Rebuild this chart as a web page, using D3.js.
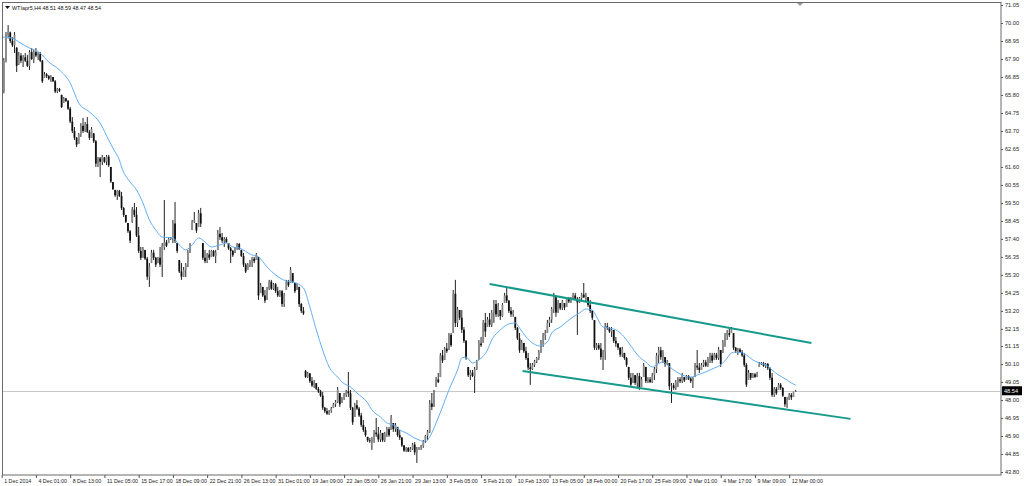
<!DOCTYPE html>
<html>
<head>
<meta charset="utf-8">
<script src="https://cdn.jsdelivr.net/npm/d3@7"></script>
<style>
  body { margin: 0; background: #fff; }
  svg { display: block; font-family: "Liberation Sans", Arial, sans-serif; }
</style>
</head>
<body>
<div class="graph"></div>
<script>
var width = 1024,
    height = 486;

// header of the chart window
var symbol = "WTIapr5,H4",
    lastQuote = "48.51 48.59 48.47 48.54",
    lastClose = 48.54;

// time axis labels, one every 16 bars
var timeLabels = ["1 Dec 2014", "4 Dec 01:00", "8 Dec 13:00", "11 Dec 05:00", "15 Dec 17:00",
  "18 Dec 09:00", "22 Dec 21:00", "26 Dec 13:00", "31 Dec 01:00", "19 Jan 09:00", "22 Jan 05:00",
  "26 Jan 21:00", "29 Jan 13:00", "3 Feb 05:00", "5 Feb 21:00", "10 Feb 13:00", "13 Feb 05:00",
  "18 Feb 00:00", "20 Feb 17:00", "25 Feb 09:00", "2 Mar 01:00", "4 Mar 17:00", "9 Mar 09:00",
  "12 Mar 00:00"];

// price axis labels
var priceLabels = ["71.05", "70.00", "68.95", "67.90", "66.85", "65.80", "64.75", "63.70", "62.65",
  "61.60", "60.55", "59.50", "58.45", "57.40", "56.35", "55.30", "54.25", "53.20", "52.15", "51.15",
  "50.10", "49.05", "48.00", "46.95", "45.90", "44.85", "43.80"];

// H4 bars: [open, high, low, close]
var ohlc = [
  // 0
  [64.5,66.1,64.45,66.0],[66.0,67.96,65.9,67.8],[67.8,69.47,67.7,69.3],[69.3,69.88,69.1,69.5],
  [69.45,69.5,68.83,68.95],[68.95,69.18,68.6,68.7],[68.7,69.47,68.25,69.3],[68.55,68.6,67.14,67.5],
  [67.6,68.31,67.55,68.1],[68.1,68.25,67.66,67.8],[67.8,68.13,67.43,68.0],[68.0,68.25,67.72,67.8],
  [67.8,68.13,67.43,67.5],[67.5,68.42,67.26,68.3],[68.3,68.54,67.84,67.9],[67.9,68.42,67.66,68.3],
  [68.3,68.54,68.01,68.1],[68.1,68.31,67.84,68.2],[68.2,68.31,67.72,67.8],[67.8,67.84,66.5,66.6],
  // 20
  [66.8,67.14,66.79,67.0],[67.0,67.08,66.79,66.9],[66.9,66.96,66.67,66.75],[66.75,66.96,66.56,66.85],
  [66.85,66.85,66.56,66.6],[66.6,66.67,65.91,66.0],[66.0,66.21,65.91,66.15],[66.15,66.21,65.97,66.05],
  [65.8,65.82,65.04,65.1],[65.35,65.68,65.33,65.6],[65.6,65.62,65.39,65.45],[65.45,65.51,64.92,65.0],
  [65.0,65.1,64.16,64.25],[64.25,64.51,63.58,63.7],[63.7,63.93,63.17,63.3],[63.3,63.35,62.76,62.9],
  [62.95,63.58,62.95,63.5],[63.5,64.16,63.35,64.0],[64.0,64.46,63.58,63.7],[63.7,64.22,63.64,64.1],
  // 40
  [64.1,64.51,63.58,63.65],[63.65,63.76,63.17,63.3],[63.3,63.93,63.3,63.8],[63.55,63.58,63.0,63.1],
  [63.1,63.17,61.6,61.8],[61.8,62.18,61.6,62.1],[62.1,62.18,61.01,61.9],[61.9,62.3,61.71,62.2],
  [62.15,62.18,61.83,61.9],[61.9,62.3,61.71,62.2],[62.2,62.3,61.6,61.7],[61.6,61.6,60.66,60.75],
  [60.72,60.72,60.26,60.3],[60.26,60.26,59.85,59.95],[59.95,60.26,59.67,60.2],[60.2,60.26,59.85,59.9],
  [59.9,60.14,59.09,59.2],[59.2,59.26,58.68,58.8],[58.8,58.8,58.33,58.4],[58.33,58.33,57.75,57.85],
  // 60
  [57.85,57.92,57.16,57.3],[58.4,59.26,58.33,59.1],[59.1,59.5,58.68,58.8],[58.8,59.26,57.51,57.6],
  [57.6,58.1,56.58,56.7],[56.7,56.93,56.17,56.3],[56.3,56.93,56.3,56.8],[56.75,56.76,56.17,56.25],
  [56.25,56.35,55.01,55.2],[55.2,55.99,54.6,55.8],[56.0,56.76,55.99,56.6],[56.6,56.76,56.17,56.3],
  [56.3,56.35,55.76,55.9],[55.99,56.35,55.99,56.3],[56.3,56.93,55.76,55.9],[55.9,57.16,55.18,57.0],
  [56.9,59.67,56.76,57.2],[57.2,57.34,56.93,57.0],[57.16,57.51,57.16,57.4],[57.4,57.51,57.34,57.45],
  // 80
  [57.45,58.51,57.16,58.3],[58.3,59.56,57.16,57.3],[57.16,57.16,56.58,56.7],[56.17,56.17,55.41,55.5],
  [55.5,55.99,55.01,55.2],[55.2,55.76,55.18,55.6],[55.6,55.99,55.18,55.9],[55.9,56.76,55.76,56.6],
  [56.6,57.16,56.58,57.05],[57.92,58.51,57.92,58.4],[58.4,58.97,58.33,58.5],[58.33,58.33,57.75,57.9],
  [58.1,59.09,58.1,58.9],[58.9,59.21,58.1,58.3],[57.16,57.16,56.17,56.3],[56.3,56.76,55.99,56.1],
  [56.1,56.58,55.99,56.5],[56.5,56.76,56.17,56.3],[56.35,56.76,56.35,56.7],[56.7,56.76,56.35,56.4],
  // 100
  [56.4,56.76,55.99,56.6],[56.76,57.92,56.76,57.7],[57.7,58.1,57.34,57.5],[57.5,57.75,57.16,57.3],
  [57.3,57.51,56.93,57.4],[57.4,57.51,57.16,57.2],[57.16,57.16,56.76,56.85],[56.85,56.93,55.99,56.7],
  [56.7,56.76,56.35,56.45],[56.58,56.93,56.58,56.9],[56.9,57.16,56.76,57.1],[57.1,57.16,56.76,56.8],
  [56.76,56.76,56.35,56.4],[56.4,56.58,55.76,55.9],[55.9,55.99,55.41,55.5],[55.59,55.99,55.59,55.9],
  [55.9,56.17,55.76,56.05],[56.05,56.35,55.76,56.25],[56.25,56.35,55.99,56.1],[56.17,56.58,56.17,56.5],
  // 120
  [56.35,56.35,53.84,54.1],[54.25,54.83,54.25,54.7],[54.6,54.6,54.01,54.1],[54.1,54.42,53.66,53.8],
  [53.84,54.6,53.84,54.5],[54.5,55.01,54.42,54.9],[54.9,55.01,54.42,54.5],[54.5,54.83,54.42,54.75],
  [54.75,54.83,54.25,54.35],[54.35,54.6,54.01,54.1],[54.1,54.42,54.01,54.35],[54.35,54.42,53.43,53.6],
  [53.6,54.25,53.43,54.15],[54.42,55.01,54.42,54.9],[54.9,55.01,54.6,54.7],[54.83,55.76,54.83,55.6],
  [55.4,55.41,54.83,54.9],[54.83,54.83,54.25,54.35],[54.42,54.83,54.42,54.75],[54.6,54.6,53.43,53.6],
  // 140
  [53.6,53.66,53.08,53.2],[53.2,53.43,52.96,53.05],[49.7,49.75,49.29,49.35],[49.35,49.64,49.29,49.55],
  [49.55,49.58,48.99,49.1],[49.1,49.34,48.76,48.85],[48.85,49.17,48.7,49.0],[48.99,48.99,48.59,48.65],
  [48.65,48.76,48.41,48.5],[48.5,48.59,48.18,48.25],[48.25,48.47,47.42,47.55],[47.55,47.6,47.25,47.35],
  [47.35,47.54,47.13,47.2],[47.2,47.42,47.13,47.35],[47.35,47.6,47.25,47.5],[47.54,47.83,47.54,47.75],
  [47.75,48.0,47.6,47.9],[47.9,48.76,47.83,48.6],[48.41,48.41,47.6,47.75],[47.83,48.18,47.83,48.1],
  // 160
  [48.1,48.41,48.0,48.3],[48.3,48.59,48.18,48.5],[48.5,49.64,48.18,48.4],[48.4,48.59,47.42,47.55],
  [47.55,47.6,46.55,46.7],[47.01,47.83,47.01,47.7],[47.7,48.0,47.42,47.5],[47.5,47.6,47.01,47.1],
  [47.1,47.25,46.43,46.55],[46.55,46.84,46.14,46.25],[46.25,46.43,45.85,45.95],[45.85,45.85,45.55,45.65],
  [45.65,45.79,45.5,45.6],[45.6,45.85,45.09,45.7],[45.7,46.25,45.5,46.1],[46.1,46.95,45.85,46.0],
  [46.0,46.43,45.55,45.7],[45.7,46.25,45.55,46.1],[46.08,46.08,45.55,45.65],[45.65,46.14,45.55,46.05],
  // 180
  [46.05,46.43,45.85,46.3],[46.3,46.43,45.85,45.95],[46.25,47.13,46.25,47.0],[46.66,46.66,46.14,46.3],
  [46.3,46.66,46.14,46.55],[46.43,46.43,45.85,45.95],[45.95,46.25,45.67,45.8],[45.8,45.85,45.26,45.35],
  [45.35,45.38,44.97,45.05],[45.05,45.26,44.97,45.2],[45.2,45.26,44.97,45.0],[45.0,45.26,44.97,45.15],
  [45.15,45.5,45.09,45.4],[45.4,45.55,44.8,44.95],[44.95,45.26,44.33,45.15],[45.15,45.26,45.09,45.2],
  [45.2,45.38,45.09,45.3],[45.3,45.67,45.21,45.6],[45.6,45.96,45.5,45.9],[45.9,46.25,45.67,46.15],
  // 200
  [46.15,48.0,46.08,47.8],[47.8,48.41,47.42,47.6],[47.6,48.59,47.6,48.45],[48.76,49.34,48.76,49.2],
  [49.2,49.58,48.99,49.05],[49.34,50.75,49.34,50.6],[50.6,50.92,50.16,50.3],[50.34,51.1,50.34,51.0],
  [51.0,51.33,50.75,50.85],[50.92,51.91,50.92,51.8],[51.8,51.91,51.1,51.2],[51.91,54.42,51.91,54.2],
  [54.2,55.01,52.26,52.5],[52.5,53.43,52.26,53.3],[53.25,53.25,52.67,52.8],[52.8,53.25,51.91,52.1],
  [52.1,52.26,51.33,51.45],[51.45,51.5,50.34,50.45],[49.93,49.93,49.34,49.45],[49.45,49.75,49.17,49.6],
  // 220
  [49.6,49.75,49.34,49.4],[49.4,49.93,48.41,49.8],[49.8,50.34,49.75,50.2],[50.34,51.5,50.34,51.3],
  [51.3,51.68,51.1,51.2],[51.33,52.67,51.33,52.5],[52.5,53.08,51.68,52.0],[52.26,52.85,52.26,52.7],
  [52.7,53.08,52.26,52.4],[52.4,53.25,52.26,53.1],[53.1,53.84,52.5,53.6],[53.6,53.84,52.85,53.0],
  [53.0,53.66,52.85,53.5],[53.25,53.25,52.67,52.9],[52.9,53.66,52.85,53.55],[53.66,54.25,53.66,54.1],
  [54.1,54.54,53.66,53.8],[53.8,53.84,53.08,53.2],[53.2,53.43,52.85,53.0],[53.0,53.25,52.85,53.15],
  // 240
  [52.85,52.85,52.09,52.2],[52.2,52.26,51.5,51.6],[51.6,51.91,50.75,50.9],[50.92,51.5,50.92,51.35],
  [51.33,51.33,50.75,50.85],[50.85,51.1,50.34,50.45],[50.45,50.75,49.75,49.9],[49.9,50.16,48.88,49.8],
  [49.8,50.16,49.75,50.05],[50.05,50.34,49.93,50.25],[50.25,50.51,50.16,50.45],[50.45,50.92,50.34,50.8],
  [50.8,51.5,50.75,51.35],[51.35,51.91,51.1,51.75],[51.75,52.09,51.5,51.9],[51.91,52.67,51.91,52.5],
  [52.5,52.85,52.26,52.7],[52.7,53.43,52.5,53.3],[53.3,54.25,53.08,54.0],[54.0,54.01,52.85,53.1],
  // 260
  [53.1,53.84,53.08,53.7],[53.66,53.66,53.25,53.35],[53.35,53.84,53.25,53.75],[53.66,53.66,53.25,53.4],
  [53.43,54.01,53.43,53.9],[53.9,54.01,53.66,53.75],[53.75,54.01,53.66,53.95],[53.95,54.25,53.84,54.1],
  [54.1,54.25,53.84,53.9],[53.9,54.01,51.8,53.7],[53.7,54.01,53.66,53.95],[53.95,54.25,53.84,54.15],
  [54.15,54.83,53.95,54.0],[54.0,54.25,53.72,54.1],[54.01,54.01,53.43,53.55],[53.55,53.84,53.08,53.2],
  [53.2,53.25,52.67,52.8],[52.67,52.67,50.92,51.05],[51.05,51.33,50.92,51.2],[51.2,51.33,50.92,51.0],
  // 280
  [51.0,51.33,50.34,50.5],[50.5,50.92,49.75,50.8],[50.8,52.5,50.34,52.3],[52.3,52.5,52.09,52.2],
  [52.2,52.26,51.91,52.0],[52.0,52.26,51.68,52.1],[52.09,52.09,51.33,51.45],[51.45,51.68,51.1,51.3],
  [51.3,51.33,50.92,51.05],[51.05,51.1,50.51,50.65],[50.65,51.1,50.51,50.95],[50.75,50.75,50.34,50.45],
  [50.45,50.51,49.93,50.05],[49.93,49.93,49.17,49.3],[49.3,49.58,48.76,48.9],[48.99,49.58,48.99,49.45],
  [49.45,49.46,48.88,49.0],[49.0,49.58,48.76,49.4],[49.4,49.58,48.59,48.75],[48.76,49.34,48.76,49.2],
  // 300
  [49.34,50.16,49.34,50.0],[49.93,49.93,48.99,49.1],[49.1,49.34,48.99,49.2],[49.2,49.34,48.99,49.05],
  [49.05,49.58,48.99,49.45],[49.45,49.93,49.17,49.8],[49.8,50.75,49.58,50.6],[50.6,51.1,50.16,50.9],
  [50.9,51.1,50.34,50.5],[50.5,50.92,50.16,50.75],[50.51,50.51,49.93,50.1],[50.1,50.34,50.05,50.25],
  [50.16,50.16,48.59,48.8],[48.8,48.99,47.83,48.85],[48.85,48.99,48.59,48.7],[48.7,49.17,48.59,49.05],
  [49.05,49.34,48.76,49.2],[49.2,49.34,48.99,49.1],[49.1,49.58,48.99,49.45],[49.34,49.34,49.05,49.15],
  // 320
  [49.17,49.46,49.17,49.4],[49.4,49.46,49.17,49.25],[49.25,49.34,48.99,49.1],[49.1,49.34,48.7,49.3],
  [49.34,50.16,49.34,50.0],[50.0,50.92,49.75,49.9],[49.9,50.16,49.58,49.75],[49.75,50.16,49.75,50.05],
  [50.05,50.34,49.93,50.2],[50.2,50.34,49.93,50.0],[50.0,50.51,49.93,50.4],[50.4,50.75,50.16,50.6],
  [50.6,50.75,50.16,50.3],[50.34,50.75,50.34,50.65],[50.65,50.75,50.34,50.45],[50.45,51.1,50.34,50.95],
  [50.92,50.92,49.93,50.1],[50.75,51.5,50.75,51.35],[51.35,51.91,51.1,51.75],[51.75,52.09,51.5,51.9],
  // 340
  [51.9,52.26,51.68,51.8],[51.91,52.26,51.91,52.15],[51.91,51.91,50.92,51.05],[51.05,51.1,50.75,50.85],
  [50.85,51.04,50.63,50.95],[50.95,51.04,50.75,50.8],[50.8,50.92,50.51,50.6],[50.6,50.75,49.93,50.05],
  [50.05,50.16,48.76,48.9],[49.17,49.75,49.17,49.6],[49.58,49.58,49.17,49.3],[49.3,49.58,49.29,49.5],
  [49.5,49.58,49.29,49.35],[49.35,49.64,49.34,49.55],[49.93,50.22,49.93,50.1],[50.1,50.22,50.05,50.15],
  [50.15,50.22,49.93,50.0],[50.0,50.16,49.87,50.1],[50.1,50.16,49.75,49.85],[49.85,49.93,49.17,49.3],
  // 360
  [49.3,49.58,48.18,48.3],[48.3,48.76,48.18,48.65],[48.65,48.76,48.3,48.4],[48.59,48.99,48.59,48.9],
  [48.9,48.99,48.59,48.7],[48.7,48.76,48.18,48.25],[48.18,48.18,47.6,47.75],[47.75,48.18,47.54,48.05],
  [48.05,48.41,48.0,48.3],[48.3,48.41,48.0,48.15],[48.18,48.41,48.18,48.5],[48.51,48.59,48.47,48.54]
];

// moving average: bar index and value
var maIdx = [0,5,8,13,18,22,27,32,36,41,46,50,53,55,56,60,63,66,69,72,75,80,83,86,89,92,95,98,102,105,
  108,111,117,120,124,128,133,136,141,144,147,150,153,157,159,163,166,171,173,177,180,183,186,189,192,195,
  198,200,203,206,209,213,215,217,220,223,227,229,233,236,240,242,245,248,251,255,257,261,264,267,270,273,
  276,278,281,284,287,290,293,298,301,304,306,309,311,314,318,322,325,329,333,336,339,341,343,346,348,351,
  354,357,360,363,367,369,371];
var maVal = [69.18,69.12,68.89,68.54,68.25,67.72,67.26,66.50,65.33,64.81,64.16,63.17,62.47,62.01,61.60,
  60.72,60.26,59.50,58.51,57.92,57.51,57.46,57.05,56.76,57.05,57.46,57.22,56.93,57.05,57.16,56.93,56.87,
  56.46,56.35,55.76,55.30,54.95,54.89,54.54,53.43,52.09,50.92,49.93,49.34,49.05,48.76,48.41,47.83,47.42,
  47.01,46.66,46.55,46.25,46.08,45.85,45.67,45.55,45.85,46.66,47.60,48.59,49.75,50.45,50.51,50.16,50.34,
  50.92,51.50,52.09,52.38,52.50,52.20,51.68,51.33,51.16,51.39,51.91,52.26,52.56,52.85,53.08,53.31,53.25,
  52.85,52.26,52.20,52.09,51.80,51.33,50.51,50.22,49.93,50.05,50.22,50.05,49.75,49.46,49.34,49.46,49.64,
  49.87,50.05,50.45,50.75,50.80,50.75,50.63,50.34,50.16,50.05,49.75,49.46,49.17,48.99,48.88];

// channel trend lines: [bar index, price]
var channelTop = [[228, 54.77], [378.4, 51.33]];
var channelBottom = [[243.4, 49.70], [396.7, 46.90]];

var svg = d3.select(".graph").append("svg")
    .attr("width", width)
    .attr("height", height);

var x = d3.scaleLinear().domain([0, 368]).range([1.7, 789.2]);
var y = d3.scaleLinear().domain([43.80, 71.05]).range([472, 5]);

svg.append("clipPath").attr("id", "plot")
  .append("rect").attr("x", 3).attr("y", 3).attr("width", 997).attr("height", 471);

var g = svg.append("g").attr("clip-path", "url(#plot)");

// last price line
g.append("line")
    .attr("x1", 3).attr("x2", 1000)
    .attr("y1", Math.round(y(lastClose)) + 0.5).attr("y2", Math.round(y(lastClose)) + 0.5)
    .attr("stroke", "#c8c8c8");

// bars
var bar = g.selectAll(".bar").data(ohlc).enter().append("g").attr("class", "bar");
bar.append("line")
    .attr("x1", function(d, i) { return x(i); })
    .attr("x2", function(d, i) { return x(i); })
    .attr("y1", function(d) { return y(d[1]); })
    .attr("y2", function(d) { return y(d[2]); })
    .attr("stroke", "#222")
    .attr("stroke-width", 1);
bar.append("rect")
    .attr("x", function(d, i) { return x(i) - 0.9; })
    .attr("width", 1.8)
    .attr("y", function(d) { return y(Math.max(d[0], d[3])); })
    .attr("height", function(d) { return Math.max(0.8, Math.abs(y(d[0]) - y(d[3]))); })
    .attr("fill", function(d) { return d[3] >= d[0] ? "#8a8a8a" : "#111"; });

// moving average
var ma = maIdx.map(function(d, i) { return [d, maVal[i]]; });
g.append("path")
    .datum(ma)
    .attr("fill", "none")
    .attr("stroke", "#62aef5")
    .attr("stroke-width", 1)
    .attr("d", d3.line()
      .x(function(d) { return x(d[0]); })
      .y(function(d) { return y(d[1]); })
      .curve(d3.curveMonotoneX));

// channel
[channelTop, channelBottom].forEach(function(seg) {
  g.append("line")
      .attr("x1", x(seg[0][0])).attr("y1", y(seg[0][1]))
      .attr("x2", x(seg[1][0])).attr("y2", y(seg[1][1]))
      .attr("stroke", "#169a8b")
      .attr("stroke-width", 2);
});

// frame
svg.append("rect")
    .attr("x", 2.5).attr("y", 2.5)
    .attr("width", 998.5).attr("height", 472.5)
    .attr("fill", "none")
    .attr("stroke", "#6b6b6b");

// price axis
var yAxis = svg.append("g")
    .attr("transform", "translate(1001,0)")
    .call(d3.axisRight(y)
      .tickValues(priceLabels.map(Number))
      .tickFormat(function(d, i) { return priceLabels[i]; })
      .tickSize(2)
      .tickPadding(2));
yAxis.select(".domain").remove();
yAxis.selectAll("text").attr("font-size", "5.6px").attr("fill", "#222").attr("font-family", "Liberation Sans, Arial, sans-serif");
yAxis.selectAll("line").attr("stroke", "#555");

// last price tag
var py = y(lastClose);
svg.append("rect")
    .attr("x", 1002).attr("y", py - 4.5)
    .attr("width", 20).attr("height", 9)
    .attr("fill", "#000");
svg.append("text")
    .attr("x", 1004).attr("y", py + 2)
    .attr("font-size", "5.6px")
    .attr("fill", "#fff")
    .text(lastClose.toFixed(2));

// time axis
var xAxis = svg.append("g")
    .attr("transform", "translate(0,475)")
    .call(d3.axisBottom(x)
      .tickValues(timeLabels.map(function(d, i) { return i * 16; }))
      .tickFormat(function(d, i) { return timeLabels[i]; })
      .tickSize(3)
      .tickPadding(1));
xAxis.select(".domain").remove();
xAxis.selectAll("text")
    .attr("text-anchor", "start")
    .attr("dx", "2px")
    .attr("font-size", "5.3px")
    .attr("fill", "#222")
    .attr("font-family", "Liberation Sans, Arial, sans-serif");
xAxis.selectAll("line").attr("stroke", "#555");

// header
svg.append("path")
    .attr("d", "M5,6 L10,6 L7.5,9 Z")
    .attr("fill", "#111");
svg.append("text")
    .attr("x", 12).attr("y", 9.5)
    .attr("font-size", "5.4px")
    .attr("fill", "#111")
    .text(symbol + "  " + lastQuote);

// shift marker
svg.append("path")
    .attr("d", "M797,3 L803,3 L800,6 Z")
    .attr("fill", "#9a9a9a");
</script>
</body>
</html>
